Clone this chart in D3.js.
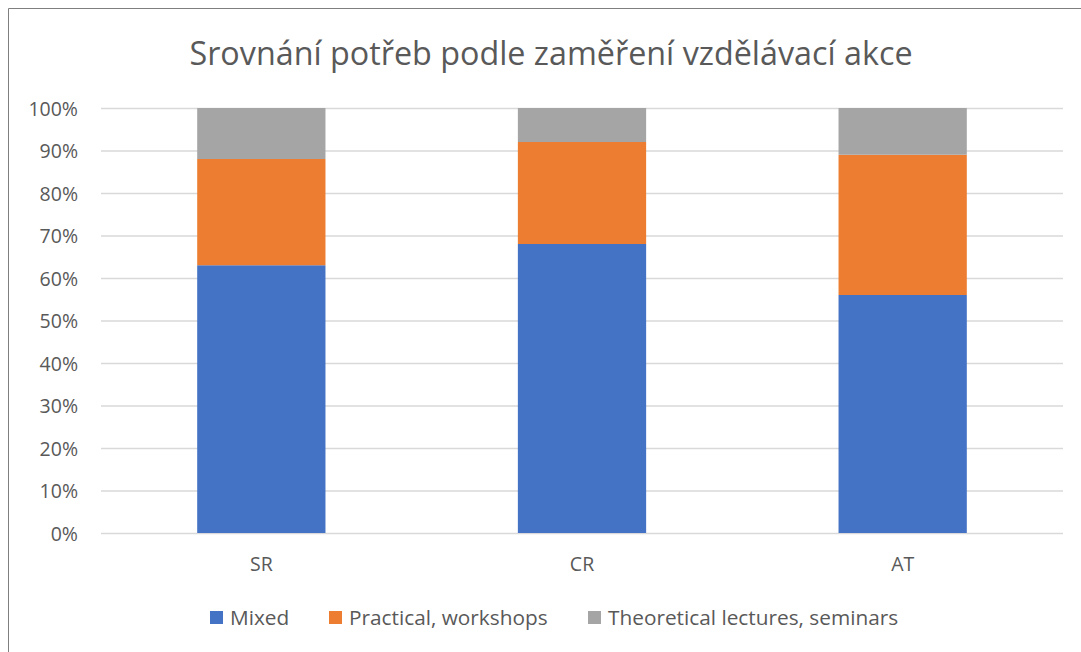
<!DOCTYPE html>
<html>
<head>
<meta charset="utf-8">
<script src="https://cdn.jsdelivr.net/npm/d3@7"></script>
<style>
  body { margin: 0; background: #fff; }
  svg { display: block; }
  svg text { font-family: "Open Sans", sans-serif; }
</style>
</head>
<body>
<svg id="chart" width="1081" height="652"></svg>
<script>
// values, in percent
var categories = ['SR', 'CR', 'AT'];
var seriesNames = ['Mixed', 'Practical, workshops', 'Theoretical lectures, seminars'];
var mixed = [63, 68, 56];
var practical = [25, 24, 33];
var theoretical = [12, 8, 11];
var yTicks = [0, 10, 20, 30, 40, 50, 60, 70, 80, 90, 100];
var colors = ['#4472C4', '#ED7D31', '#A5A5A5'];

var svg = d3.select('#chart');
var width = 1081, height = 652;

// plot area
var margin = { top: 108, right: 18, bottom: 119, left: 101 };

var rows = categories.map(function(c, i) {
  return { cat: c, 'Mixed': mixed[i], 'Practical, workshops': practical[i], 'Theoretical lectures, seminars': theoretical[i] };
});
var stacked = d3.stack().keys(seriesNames)(rows);

var x = d3.scaleBand()
    .domain(categories)
    .range([margin.left, width - margin.right])
    .paddingInner(0.6)
    .paddingOuter(0.3);

var y = d3.scaleLinear()
    .domain([0, 100])
    .range([height - margin.bottom, margin.top]);

// chart frame (only top/left edges show in the crop)
svg.append('path')
    .attr('d', 'M8.5,652 L8.5,8.5 L1081,8.5')
    .attr('fill', 'none')
    .attr('stroke', '#7f7f7f')
    .attr('stroke-width', 1);

// title
svg.append('text')
    .attr('x', 551)
    .attr('y', 65)
    .attr('text-anchor', 'middle')
    .attr('fill', '#595959')
    .style('font-size', '32.3px')
    .text('Srovnání potřeb podle zaměření vzdělávací akce');

// gridlines + y labels
var yAxis = d3.axisLeft(y)
    .tickValues(yTicks)
    .tickSize(-(width - margin.right - margin.left))
    .tickPadding(23)
    .tickFormat(function(d) { return d + '%'; });

var gy = svg.append('g')
    .attr('transform', 'translate(' + margin.left + ',0)')
    .call(yAxis)
    .attr('font-family', null);
gy.select('.domain').remove();
gy.selectAll('.tick line').attr('stroke', '#d9d9d9').attr('stroke-width', 1.3);
gy.selectAll('.tick text')
    .attr('fill', '#595959')
    .style('font-size', '19.5px')
    .attr('dy', '0.36em');

// bars
svg.append('g').selectAll('g')
    .data(stacked)
    .enter()
    .append('g')
      .attr('fill', function(d, i) { return colors[i]; })
    .selectAll('rect')
    .data(function(d) { return d; })
    .enter()
    .append('rect')
      .attr('x', function(d) { return x(d.data.cat); })
      .attr('y', function(d) { return y(d[1]); })
      .attr('width', x.bandwidth())
      .attr('height', function(d) { return y(d[0]) - y(d[1]); });

// category axis
var xAxis = d3.axisBottom(x).tickSize(0).tickPadding(24);
var gx = svg.append('g')
    .attr('transform', 'translate(0,' + (height - margin.bottom) + ')')
    .call(xAxis)
    .attr('font-family', null);
gx.select('.domain').remove();
gx.selectAll('.tick text')
    .attr('fill', '#595959')
    .style('font-size', '19.5px');

// legend
var legendX = [210, 329, 588];
var legend = svg.append('g').selectAll('g')
    .data(seriesNames)
    .enter()
    .append('g')
      .attr('transform', function(d, i) { return 'translate(' + legendX[i] + ',611)'; });
legend.append('rect')
    .attr('width', 13)
    .attr('height', 13)
    .attr('fill', function(d, i) { return colors[i]; });
legend.append('text')
    .attr('x', 20)
    .attr('y', 14)
    .attr('fill', '#595959')
    .style('font-size', '20.8px')
    .text(function(d) { return d; });
</script>
</body>
</html>
